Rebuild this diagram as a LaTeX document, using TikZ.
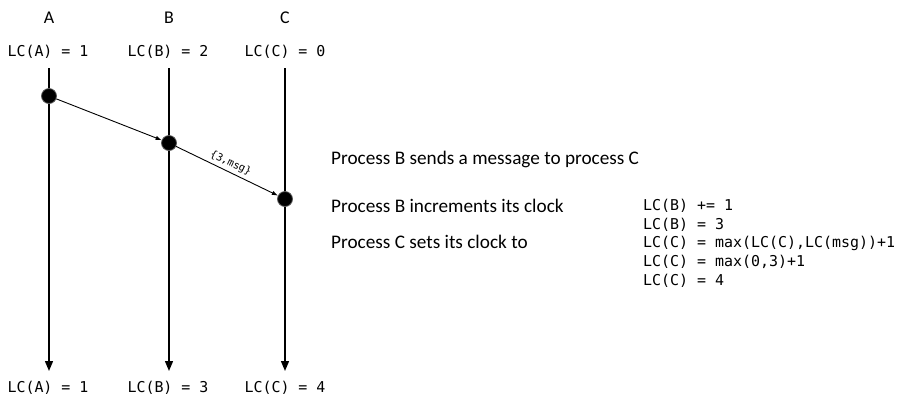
\documentclass[tikz,border=0pt]{standalone}
\usepackage{fontspec}
\setmainfont{Carlito}
\newfontfamily\clockfont{DejaVu Sans Mono}
\usetikzlibrary{arrows.meta, positioning}

\begin{document}
\begin{tikzpicture}[
  x=1bp, y=-1bp,
  proc/.style={inner sep=0pt, font=\fontsize{18}{21}\selectfont},
  clock/.style={inner sep=0pt, font=\clockfont\fontsize{15}{18}\selectfont},
  note/.style={inner sep=0pt, anchor=west, font=\fontsize{19.3}{22}\selectfont},
  calc/.style={clock, anchor=west},
  event/.style={circle, fill=black, draw=black!65, line width=0.8bp,
                minimum size=15bp, inner sep=0pt},
  timeline/.style={-{Triangle[length=10bp, width=8bp]}, line width=1.4bp},
  msg/.style={-{Latex[length=6bp, width=4.5bp]}, line width=0.9bp}
]
\useasboundingbox (0,0) rectangle (903,400);

% process names
\node[proc] (pA) at (49,18) {A};
\node[proc] (pB) at (169,18) {B};
\node[proc] (pC) at (285,18) {C};

% clocks before
\node[clock] (startA) at (48,52) {LC(A) = 1};
\node[clock] (startB) at (168,52) {LC(B) = 2};
\node[clock] (startC) at (285,52) {LC(C) = 0};

% clocks after
\node[clock] (finA) at (48,388) {LC(A) = 1};
\node[clock] (finB) at (168,388) {LC(B) = 3};
\node[clock] (finC) at (285,388) {LC(C) = 4};

% time lines
\coordinate (topA) at (49,68);
\coordinate (topB) at (169,68);
\coordinate (topC) at (285,68);
\coordinate (endA) at (49,371);
\coordinate (endB) at (169,371);
\coordinate (endC) at (285,371);
\draw[timeline] (topA) -- (endA);
\draw[timeline] (topB) -- (endB);
\draw[timeline] (topC) -- (endC);

% events
\node[event] (eA) at (49,96) {};
\node[event] (eB) at (169,143) {};
\node[event] (eC) at (285,199) {};

\draw[msg] (eA) -- (eB);
\draw[msg] (eB) -- node[sloped, above=2bp, inner sep=1bp,
  font=\clockfont\fontsize{10.5}{12}\selectfont] {\{3,msg\}} (eC);

% explanation
\node[note] (send) at (331,159) {Process B sends a message to process C};
\node[note] (incr) at (331,206) {Process B increments its clock};
\node[note] (sets) at (331,242) {Process C sets its clock to};

\node[calc] (c1) at (643,206) {LC(B) += 1};
\node[calc] (c2) at (643,224.5) {LC(B) = 3};
\node[calc] (c3) at (643,243) {LC(C) = max(LC(C),LC(msg))+1};
\node[calc] (c4) at (643,262) {LC(C) = max(0,3)+1};
\node[calc] (c5) at (643,281) {LC(C) = 4};

\end{tikzpicture}
\end{document}
